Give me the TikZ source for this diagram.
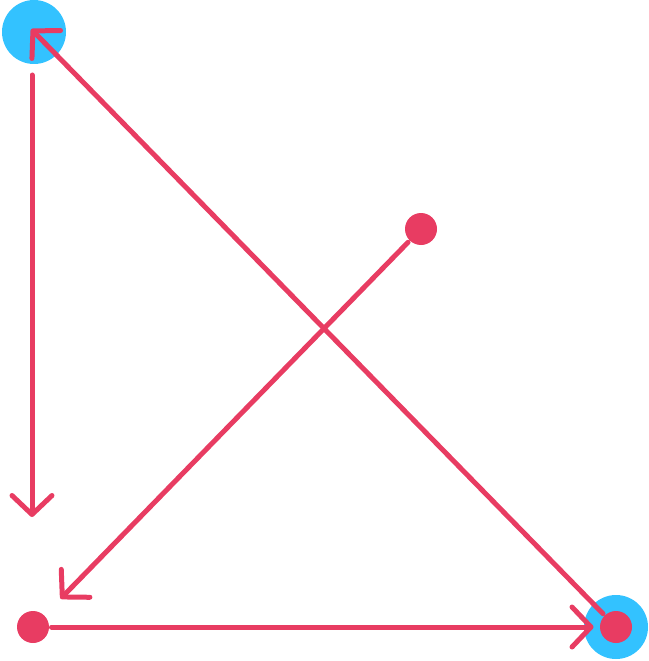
\documentclass[tikz,border=0pt]{standalone}
\usepackage{tikz}
\usetikzlibrary{arrows.meta}
\definecolor{pinkred}{RGB}{232,60,98}
\definecolor{skyblue}{RGB}{51,194,255}

\begin{document}
\begin{tikzpicture}
    [x=1pt,y=-1pt, line width=5pt, line cap=round,
     halo/.style={circle,fill=skyblue,inner sep=0pt,minimum size=64pt},
     dot/.style={circle,fill=pinkred,inner sep=0pt,minimum size=32pt},
     barb/.style={draw=pinkred,-{Straight Barb[round,length=19pt,width=40pt]}}]
    \useasboundingbox (0,0) rectangle (648,661);
    % halos
    \node[halo] (Htl) at (34,32) {};
    \node[halo] (Hbr) at (616,627) {};
    % dots
    \node[dot] (Dmid) at (421,229) {};
    \node[dot] (Dbl) at (33,627) {};
    \node[dot] (Dbr) at (616,627) {};
    \coordinate (Vtop) at (32,75);
    \coordinate (Vbot) at (32,517);
    % arrows
    \draw[barb] (Vtop) -- (Vbot);
    \draw[barb,shorten >=21pt] (Dmid) -- (Dbl);
    \draw[barb,shorten >=4pt] (Dbl) -- (Dbr);
    \draw[barb,shorten >=-4pt] (Dbr) -- (Htl.center);
\end{tikzpicture}
\end{document}
